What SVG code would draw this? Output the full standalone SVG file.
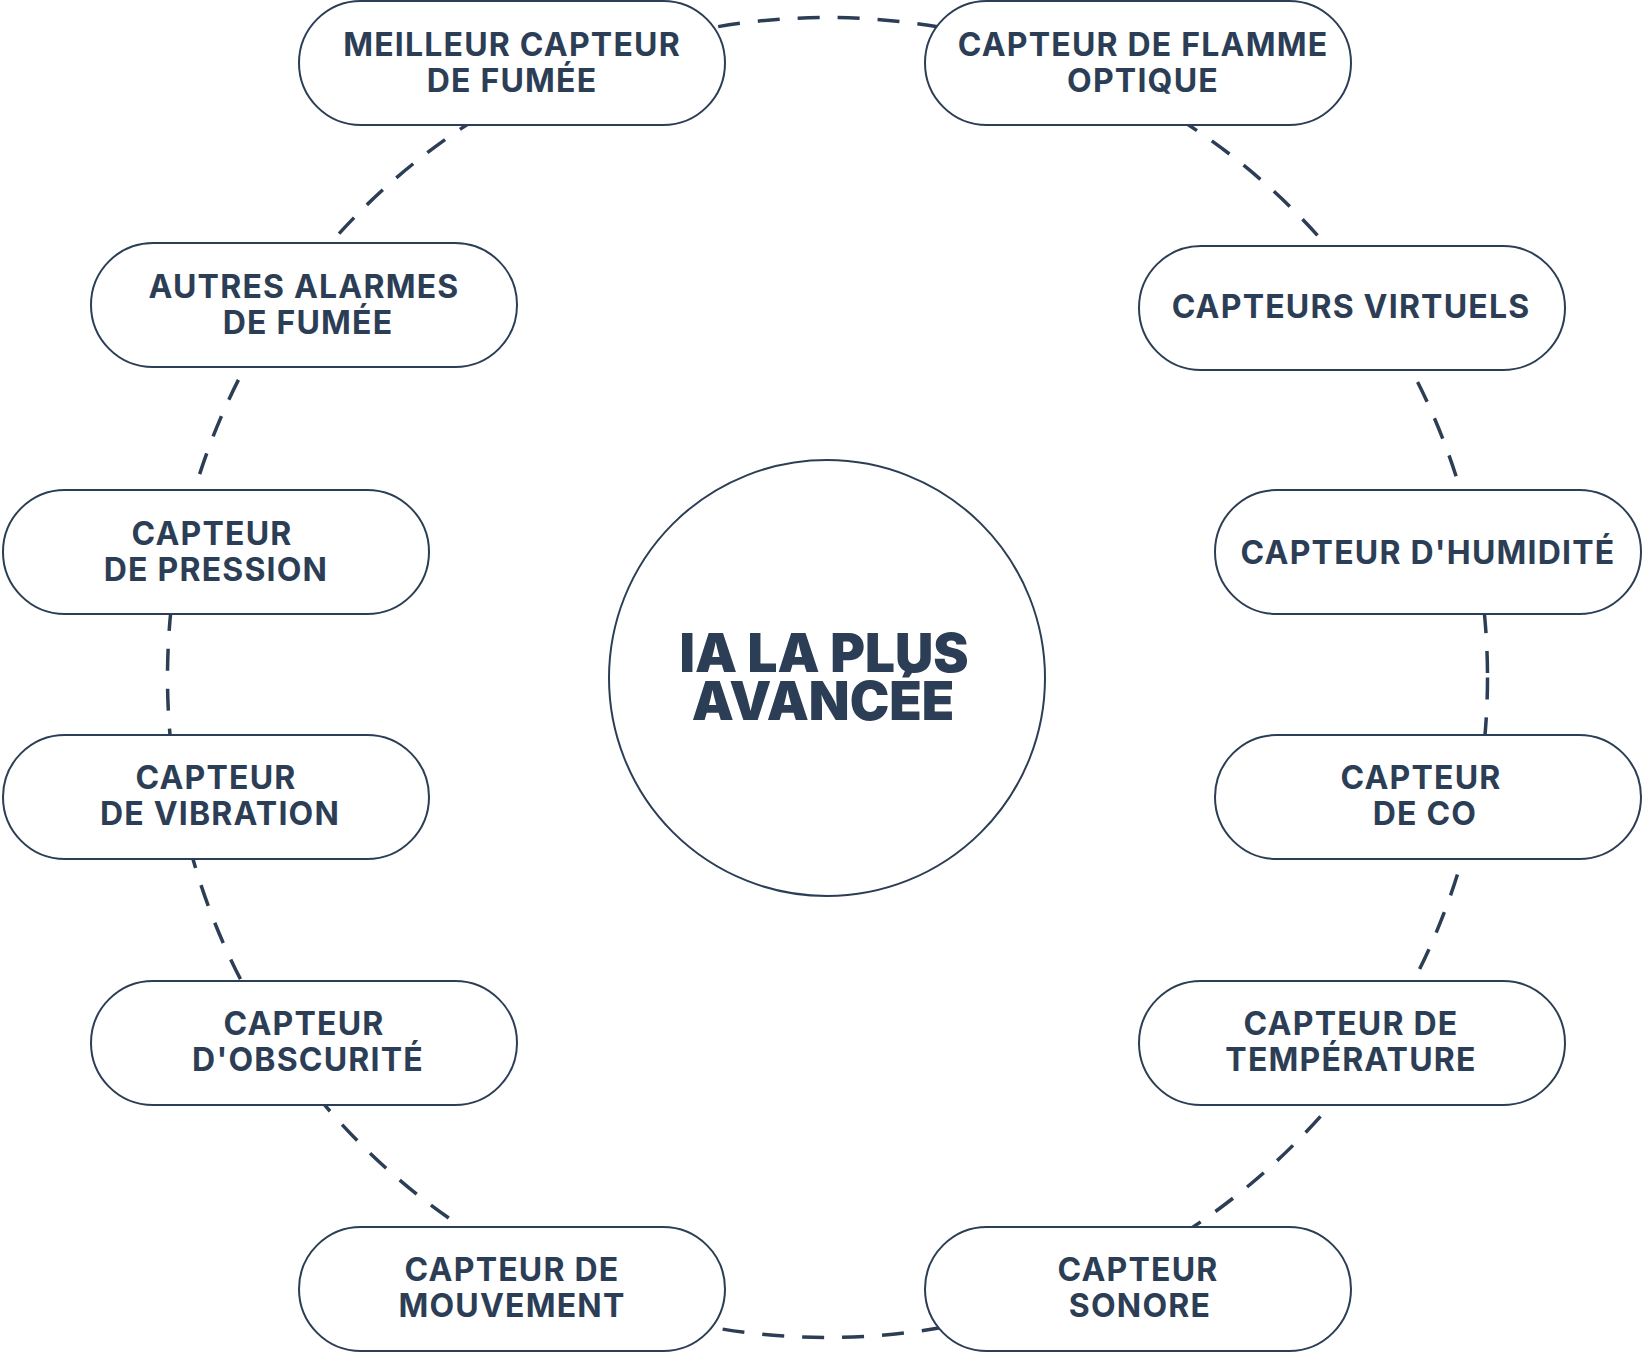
<svg xmlns="http://www.w3.org/2000/svg" width="1644" height="1352" viewBox="0 0 1644 1352">
<style>
.pill{fill:#ffffff;stroke:#2c3e55;stroke-width:2}
.lbl{font-family:Inter,"Noto Sans","Liberation Sans",sans-serif;font-weight:700;font-size:32px;fill:#2c3e55;text-anchor:middle;letter-spacing:1.2px}
.hub{font-family:Inter,"Noto Sans","Liberation Sans",sans-serif;font-weight:900;font-size:53px;fill:#2c3e55;text-anchor:middle}
</style>
<rect width="1644" height="1352" fill="#ffffff"/>
<g id="connectors">
<circle cx="827.5" cy="677.5" r="660" fill="none" stroke="#2c3e55" stroke-width="3.5" stroke-dasharray="22 18"/>
</g>
<g id="center">
<circle cx="827" cy="678" r="218" fill="#ffffff" stroke="#2c3e55" stroke-width="2"/>
<text class="hub" x="824" y="672">IA LA PLUS</text>
<text class="hub" x="823" y="720">AVANCÉE</text>
</g>
<g id="n1"><rect class="pill" x="299" y="1" width="426" height="124" rx="62"/>
<text class="lbl" x="512" y="56">MEILLEUR CAPTEUR</text><text class="lbl" x="512" y="92">DE FUMÉE</text></g>
<g id="n2"><rect class="pill" x="925" y="1" width="426" height="124" rx="62"/>
<text class="lbl" x="1143" y="56">CAPTEUR DE FLAMME</text><text class="lbl" x="1143" y="92">OPTIQUE</text></g>
<g id="n3"><rect class="pill" x="91" y="243" width="426" height="124" rx="62"/>
<text class="lbl" x="304" y="298">AUTRES ALARMES</text><text class="lbl" x="308" y="334">DE FUMÉE</text></g>
<g id="n4"><rect class="pill" x="1139" y="246" width="426" height="124" rx="62"/>
<text class="lbl" x="1351" y="318">CAPTEURS VIRTUELS</text></g>
<g id="n5"><rect class="pill" x="3" y="490" width="426" height="124" rx="62"/>
<text class="lbl" x="212" y="545">CAPTEUR</text><text class="lbl" x="216" y="581">DE PRESSION</text></g>
<g id="n6"><rect class="pill" x="1215" y="490" width="426" height="124" rx="62"/>
<text class="lbl" x="1428" y="564">CAPTEUR D'HUMIDITÉ</text></g>
<g id="n7"><rect class="pill" x="3" y="735" width="426" height="124" rx="62"/>
<text class="lbl" x="216" y="789">CAPTEUR</text><text class="lbl" x="220" y="825">DE VIBRATION</text></g>
<g id="n8"><rect class="pill" x="1215" y="735" width="426" height="124" rx="62"/>
<text class="lbl" x="1421" y="789">CAPTEUR</text><text class="lbl" x="1425" y="825">DE CO</text></g>
<g id="n9"><rect class="pill" x="91" y="981" width="426" height="124" rx="62"/>
<text class="lbl" x="304" y="1035">CAPTEUR</text><text class="lbl" x="308" y="1071">D'OBSCURITÉ</text></g>
<g id="n10"><rect class="pill" x="1139" y="981" width="426" height="124" rx="62"/>
<text class="lbl" x="1351" y="1035">CAPTEUR DE</text><text class="lbl" x="1351" y="1071">TEMPÉRATURE</text></g>
<g id="n11"><rect class="pill" x="299" y="1227" width="426" height="124" rx="62"/>
<text class="lbl" x="512" y="1281">CAPTEUR DE</text><text class="lbl" x="512" y="1317">MOUVEMENT</text></g>
<g id="n12"><rect class="pill" x="925" y="1227" width="426" height="124" rx="62"/>
<text class="lbl" x="1138" y="1281">CAPTEUR</text><text class="lbl" x="1140" y="1317">SONORE</text></g>
</svg>
